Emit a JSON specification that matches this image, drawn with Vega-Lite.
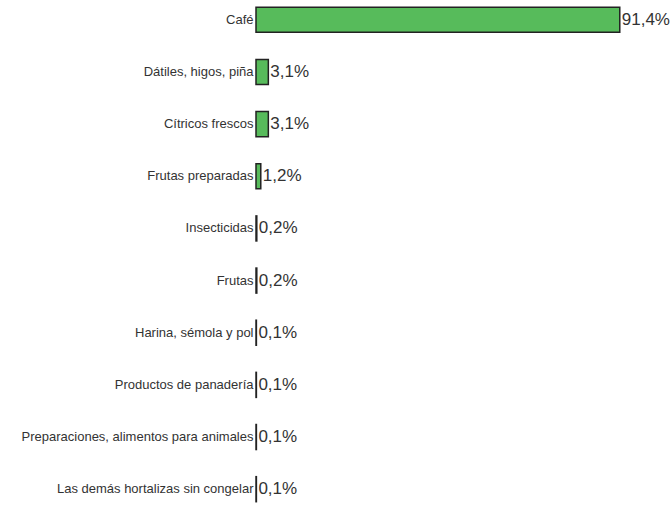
{
  "$schema": "https://vega.github.io/schema/vega-lite/v6.json",
  "autosize": "none",
  "width": 398,
  "height": 509,
  "padding": {"left": 256, "top": 0, "right": 16, "bottom": 0},
  "background": "white",
  "config": {"view": {"stroke": null}},
  "data": {
    "values": [
      {"producto": "Café", "valor": 91.4, "etiqueta": "91,4%"},
      {"producto": "Dátiles, higos, piña", "valor": 3.1, "etiqueta": "3,1%"},
      {"producto": "Cítricos frescos", "valor": 3.1, "etiqueta": "3,1%"},
      {"producto": "Frutas preparadas", "valor": 1.2, "etiqueta": "1,2%"},
      {"producto": "Insecticidas", "valor": 0.2, "etiqueta": "0,2%"},
      {"producto": "Frutas", "valor": 0.2, "etiqueta": "0,2%"},
      {"producto": "Harina, sémola y pol", "valor": 0.1, "etiqueta": "0,1%"},
      {"producto": "Productos de panadería", "valor": 0.1, "etiqueta": "0,1%"},
      {"producto": "Preparaciones, alimentos para animales", "valor": 0.1, "etiqueta": "0,1%"},
      {"producto": "Las demás hortalizas sin congelar", "valor": 0.1, "etiqueta": "0,1%"}
    ]
  },
  "encoding": {
    "y": {
      "field": "producto",
      "type": "nominal",
      "sort": null,
      "scale": {"paddingInner": 0.52, "paddingOuter": 0.14},
      "axis": {
        "title": null,
        "domain": false,
        "ticks": false,
        "labelPadding": 3,
        "labelFont": "Liberation Sans",
        "labelFontSize": 13,
        "labelColor": "#333333",
        "labelLimit": 300
      }
    },
    "x": {
      "field": "valor",
      "type": "quantitative",
      "scale": {"domain": [0, 100], "nice": false},
      "axis": null
    }
  },
  "layer": [
    {
      "mark": {"type": "bar", "color": "#57bb5b", "stroke": "#222222", "strokeWidth": 1.5}
    },
    {
      "mark": {"type": "text", "align": "left", "baseline": "middle", "dx": 2, "font": "Liberation Sans", "fontSize": 17, "color": "#333333"},
      "encoding": {"text": {"field": "etiqueta"}}
    }
  ]
}
